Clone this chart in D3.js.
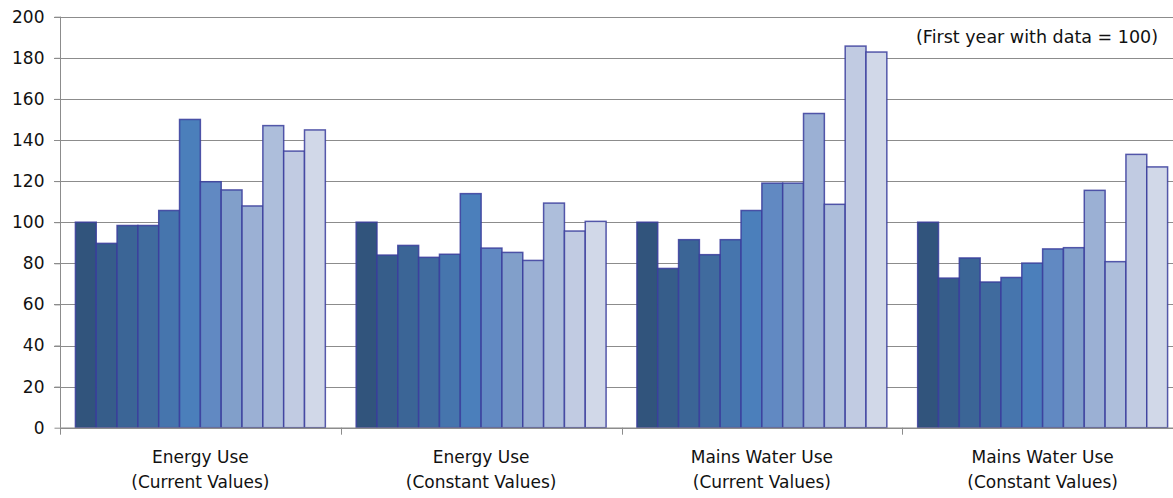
<!DOCTYPE html>
<html>
<head>
<meta charset="utf-8">
<script src="https://cdn.jsdelivr.net/npm/d3@7"></script>
<style>
  html, body { margin: 0; padding: 0; background: #fff; }
  svg { display: block; }
  text { font-family: "DejaVu Sans", Verdana, sans-serif; fill: #111; }
</style>
</head>
<body>
<svg id="chart" width="1173" height="498"></svg>
<script>
// Index values per category, one value per year (first year = 100)
const categories = [
  ["Energy Use", "(Current Values)"],
  ["Energy Use", "(Constant Values)"],
  ["Mains Water Use", "(Current Values)"],
  ["Mains Water Use", "(Constant Values)"]
];
const energyCurrent   = [100, 89.7, 98.4, 98.4, 105.7, 150, 119.7, 115.7, 107.9, 147, 134.6, 144.9];
const energyConstant  = [100, 84, 88.7, 82.9, 84.4, 113.9, 87.4, 85.3, 81.4, 109.3, 95.7, 100.4];
const waterCurrent    = [100, 77.5, 91.5, 84.2, 91.5, 105.7, 119, 119, 152.9, 108.7, 185.7, 182.8];
const waterConstant   = [100, 72.8, 82.6, 70.9, 73.1, 80.1, 87, 87.6, 115.5, 80.8, 133, 126.9];
const seriesValues = [energyCurrent, energyConstant, waterCurrent, waterConstant];
const yTicks = [0, 20, 40, 60, 80, 100, 120, 140, 160, 180, 200];
const yearColors = ["#31547c", "#365d8a", "#3b6596", "#406b9e", "#4675ad", "#4b7fbb",
                    "#6189c2", "#819fca", "#9bb0d4", "#adbedb", "#c1cbe2", "#d1d8e8"];
const note = "(First year with data = 100)";

const svg = d3.select("#chart");
const plot = { left: 60, right: 1183, top: 16.7, bottom: 427.7 };

const x0 = d3.scaleBand().domain(d3.range(categories.length)).range([plot.left, plot.right]).padding(0);
const x1 = d3.scaleBand().domain(d3.range(yearColors.length)).range([0, x0.bandwidth()])
  .paddingInner(0).paddingOuter(0.74);
const y = d3.scaleLinear().domain([0, 200]).range([plot.bottom, plot.top]);

// horizontal gridlines
svg.append("g")
  .selectAll("line")
  .data(yTicks.filter(d => d > 0))
  .join("line")
  .attr("x1", plot.left - 6).attr("x2", plot.right)
  .attr("y1", d => Math.round(y(d)) + 0.5).attr("y2", d => Math.round(y(d)) + 0.5)
  .attr("stroke", "#8c8c8c").attr("stroke-width", 1);

// y axis
const yAxis = svg.append("g")
  .attr("transform", `translate(${plot.left + 0.5},0)`)
  .call(d3.axisLeft(y).tickValues(yTicks).tickSize(6).tickPadding(10));
yAxis.select(".domain").attr("stroke", "#8c8c8c").attr("d", `M0,${y(200)}V${plot.bottom}`);
yAxis.selectAll(".tick line").attr("stroke", "#8c8c8c");
yAxis.selectAll(".tick text")
  .style("font-family", '"DejaVu Sans", Verdana, sans-serif')
  .style("font-size", "17px").attr("fill", "#111");

// bars
const groups = svg.append("g").selectAll("g")
  .data(seriesValues)
  .join("g")
  .attr("transform", (d, i) => `translate(${x0(i)},0)`);
groups.selectAll("rect")
  .data(d => d)
  .join("rect")
  .attr("x", (d, i) => x1(i))
  .attr("width", x1.bandwidth())
  .attr("y", d => y(d))
  .attr("height", d => y(0) - y(d))
  .attr("fill", (d, i) => yearColors[i])
  .attr("stroke", "#3a3d9c")
  .attr("stroke-opacity", 0.85)
  .attr("stroke-width", 1.5);

// x axis baseline with category tick marks
svg.append("line")
  .attr("x1", plot.left).attr("x2", plot.right)
  .attr("y1", plot.bottom + 0.5).attr("y2", plot.bottom + 0.5)
  .attr("stroke", "#8c8c8c").attr("stroke-width", 1.5);
svg.append("g").selectAll("line")
  .data(d3.range(categories.length + 1))
  .join("line")
  .attr("x1", i => Math.round(plot.left + i * x0.step()) + 0.5)
  .attr("x2", i => Math.round(plot.left + i * x0.step()) + 0.5)
  .attr("y1", plot.bottom).attr("y2", plot.bottom + 7)
  .attr("stroke", "#8c8c8c");

// category labels
const labels = svg.append("g").selectAll("text")
  .data(categories)
  .join("text")
  .attr("text-anchor", "middle")
  .style("font-size", "17px");
labels.each(function(d, i) {
  const cx = x0(i) + x0.bandwidth() / 2;
  d3.select(this).selectAll("tspan")
    .data(d)
    .join("tspan")
    .attr("x", cx)
    .attr("y", (t, j) => 463 + j * 25)
    .text(t => t);
});

// index note
svg.append("text")
  .attr("x", 1158).attr("y", 43)
  .attr("text-anchor", "end")
  .style("font-size", "17.5px")
  .text(note);
</script>
</body>
</html>
